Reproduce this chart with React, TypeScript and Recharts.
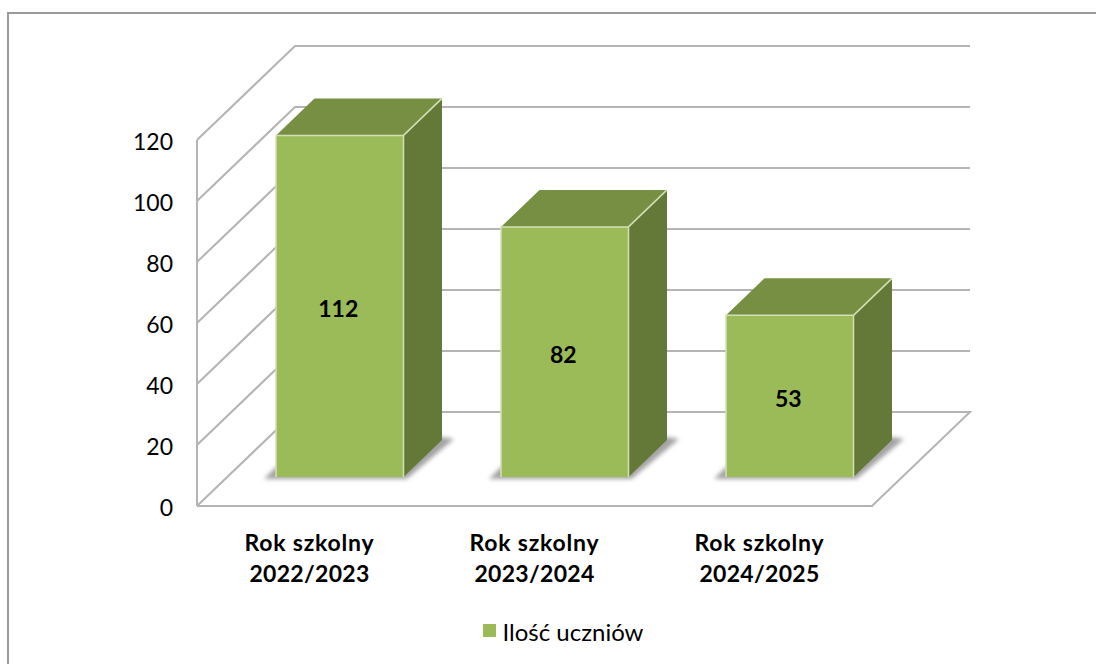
import { BarChart, Bar, XAxis, YAxis, CartesianGrid, Legend, LabelList } from "recharts";

const YEARS = ["Rok szkolny 2022/2023", "Rok szkolny 2023/2024", "Rok szkolny 2024/2025"];
const STUDENTS = [112, 82, 53];
const Y_TICKS = [0, 20, 40, 60, 80, 100, 120];

const data = YEARS.map((y, i) => ({ year: y, students: STUDENTS[i] }));

const FONT = "Lato, 'Open Sans', sans-serif";
const LINE = "#b4b4b4";

// przesunięcia "3D"
const WALL_DX = 98;
const WALL_DY = 94;
const BAR_DX = 30;
const BAR_DY = 29;
const DEPTH_DX = 38.5;
const DEPTH_DY = 37;

function GridLine(props: any) {
  const { x1, x2, y1 } = props;
  const bx = x1 + WALL_DX;
  const by = y1 - WALL_DY;
  const isFloor = y1 > 500;
  const pts = isFloor
    ? `${x1},${y1} ${bx},${by} ${x2 + WALL_DX},${by} ${x2},${y1} ${x1},${y1}`
    : `${x1},${y1} ${bx},${by} ${x2 + WALL_DX},${by}`;
  return (
    <polyline
      points={pts}
      fill="none"
      stroke={LINE}
      strokeWidth={2}
      style={{ filter: "blur(0.4px)" }}
    />
  );
}

function Box3D(props: any) {
  const { x, y, width, height } = props;
  const l = x + BAR_DX;
  const r = l + width;
  const t = y - BAR_DY;
  const b = t + height;
  const edge = "#d3dfb6";
  return (
    <g>
      <polygon
        points={`${l - 12},${b + 2} ${r + 3},${b + 2} ${r + DEPTH_DX + 12},${b - DEPTH_DY - 1} ${r + DEPTH_DX},${b - DEPTH_DY - 3} ${l},${b - 10}`}
        fill="#a3a3a3"
        style={{ filter: "blur(2px)" }}
      />
      <polygon
        points={`${l},${t} ${r},${t} ${r + DEPTH_DX},${t - DEPTH_DY} ${l + DEPTH_DX},${t - DEPTH_DY}`}
        fill="#778f42"
      />
      <polygon
        points={`${r},${t} ${r + DEPTH_DX},${t - DEPTH_DY} ${r + DEPTH_DX},${b - DEPTH_DY} ${r},${b}`}
        fill="#647937"
      />
      <rect x={l} y={t} width={width} height={height} fill="#9bbb59" />
      <path
        d={`M${l},${b} L${l},${t} L${r},${t} L${r},${b} M${r},${t} L${r + DEPTH_DX},${t - DEPTH_DY}`}
        fill="none"
        stroke={edge}
        strokeWidth={1.5}
      />
    </g>
  );
}

function YearTick(props: any) {
  const { x, y, payload } = props;
  const parts = String(payload.value).split(" ");
  return (
    <text x={x} textAnchor="middle" fontFamily={FONT} fontWeight={700} fontSize={23} fill="#000">
      <tspan x={x} y={y + 37} letterSpacing={0.8}>{parts.slice(0, 2).join(" ")}</tspan>
      <tspan x={x} y={y + 68} letterSpacing={0.3}>{parts[2]}</tspan>
    </text>
  );
}

export default function App() {
  return (
    <div style={{ position: "absolute", left: 0, top: 0, width: 1096, height: 664, overflow: "hidden", background: "#fff" }}>
      <div style={{ position: "absolute", left: 7, top: 12, width: 1089, height: 652, borderLeft: "2px solid #9a9a9a", borderTop: "2px solid #9a9a9a" }} />
      <BarChart
        width={1096}
        height={664}
        data={data}
        margin={{ top: 140, right: 224, bottom: 98, left: 137 }}
        style={{ position: "absolute", left: 0, top: 0 }}
      >
        <CartesianGrid horizontal={(p: any) => <GridLine key={p.key} {...p} />} vertical={false} />
        <XAxis
          dataKey="year"
          height={60}
          axisLine={false}
          tickLine={false}
          interval={0}
          tick={<YearTick />}
        />
        <YAxis
          width={60}
          domain={[0, 120]}
          ticks={Y_TICKS}
          axisLine={{ stroke: LINE, strokeWidth: 2 }}
          tickLine={false}
          tickMargin={18}
          tick={{ fill: "#000", fontFamily: FONT, fontSize: 23, dy: 2 }}
        />
        <Bar
          dataKey="students"
          name="Ilość uczniów"
          fill="#9bbb59"
          barSize={127.5}
          shape={<Box3D />}
          isAnimationActive={false}
        >
          <LabelList
            dataKey="students"
            position="center"
            dx={BAR_DX - 1.5}
            dy={-BAR_DY + 3}
            fill="#000"
            fontFamily={FONT}
            fontWeight={700}
            fontSize={23}
          />
        </Bar>
        <Legend
          verticalAlign="middle"
          align="center"
          iconType="square"
          iconSize={13}
          wrapperStyle={{ left: 473, top: 613, width: 190, fontFamily: FONT, fontSize: 24 }}
          formatter={(v: string) => <span style={{ color: "#000", marginLeft: 3, position: "relative", top: 4 }}>{v}</span>}
        />
      </BarChart>
    </div>
  );
}
